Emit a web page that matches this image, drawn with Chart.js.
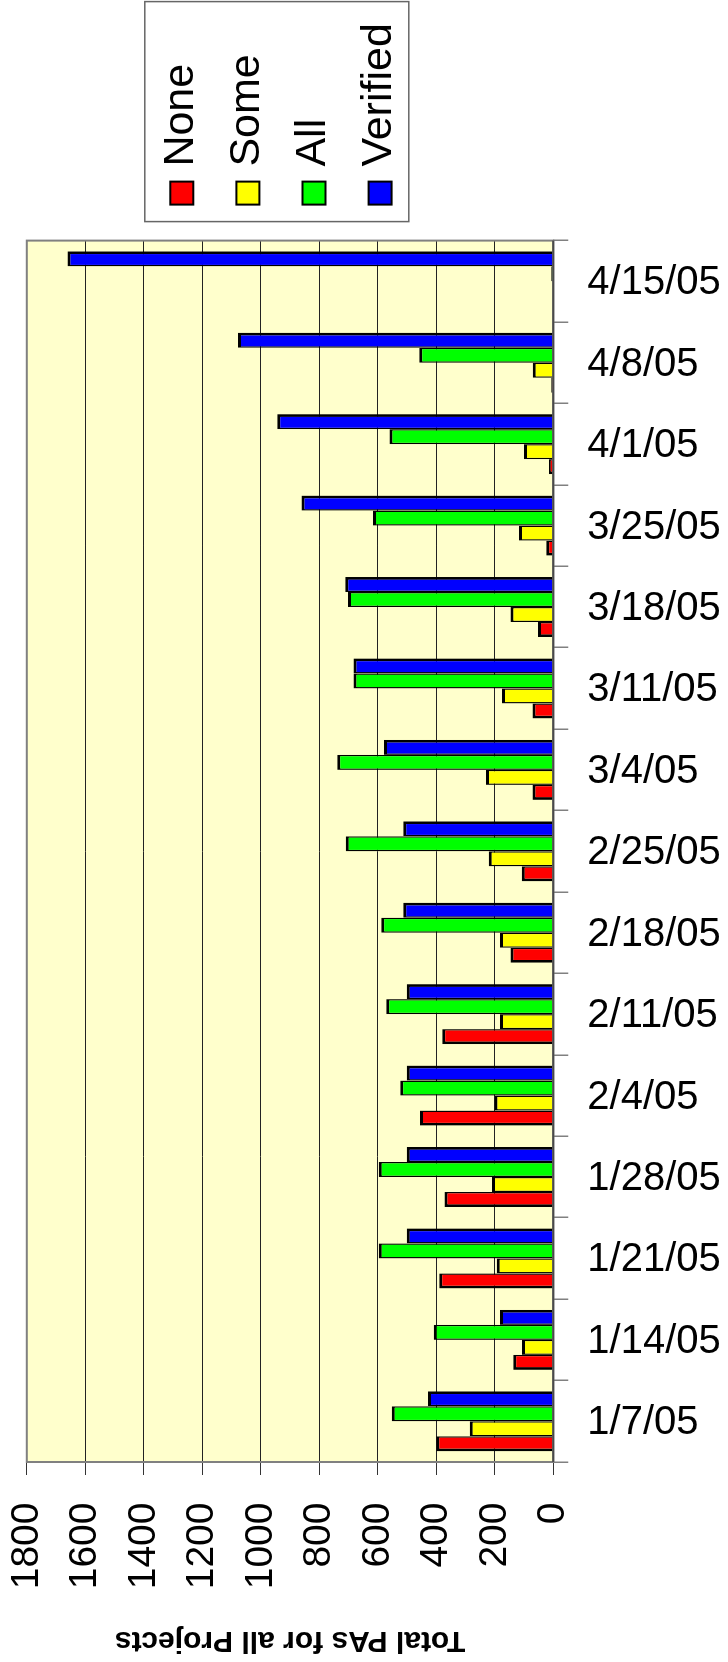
<!DOCTYPE html>
<html>
<head>
<meta charset="utf-8">
<title>Total PAs for all Projects</title>
<script src="https://cdn.jsdelivr.net/npm/chart.js@4/dist/chart.umd.min.js"></script>
<style>
  html, body { margin: 0; padding: 0; background: #fff; overflow: hidden; }
  #wrap { position: relative; width: 728px; height: 1662px; overflow: hidden; }
  /* the chart is laid out as a column chart and turned a quarter turn */
  #chart {
    position: absolute; left: 0; top: 0;
    width: 1662px; height: 728px;
    transform-origin: 0 0;
    transform: translate(0, 1662px) rotate(-90deg);
  }
</style>
</head>
<body>
<div id="wrap"><canvas id="chart" width="1662" height="728"></canvas></div>
<script>
// weekly counts, oldest week first
const dates = ['1/7/05', '1/14/05', '1/21/05', '1/28/05', '2/4/05', '2/11/05', '2/18/05', '2/25/05',
  '3/4/05', '3/11/05', '3/18/05', '3/25/05', '4/1/05', '4/8/05', '4/15/05'];
const noneCounts = [400, 137, 390, 372, 456, 380, 146, 108, 71, 71, 52, 24, 15, 7, 0];
const someCounts = [286, 107, 193, 210, 201, 182, 182, 221, 230, 175, 146, 117, 100, 70, 0];
const allCounts = [552, 409, 597, 597, 523, 571, 588, 710, 739, 683, 702, 616, 560, 458, 7];
const verifiedCounts = [428, 182, 501, 501, 501, 501, 513, 513, 579, 683, 711, 861, 944, 1078, 1661];
const valueTicks = [0, 200, 400, 600, 800, 1000, 1200, 1400, 1600, 1800];

const FONT = "'Liberation Sans', Arial, Helvetica, sans-serif";

// neighbouring bars share a thin edge, the outer edges of a group are full width
function series(label, data, color, leftEdge, rightEdge) {
  return {
    label: label,
    data: data,
    backgroundColor: color,
    borderColor: '#000',
    borderWidth: { top: 3, left: leftEdge, right: rightEdge, bottom: 0 },
    borderSkipped: false
  };
}

// pale plot background
const plotBackground = {
  id: 'plotBackground',
  beforeDraw(chart) {
    const { ctx, chartArea: a } = chart;
    ctx.save();
    ctx.fillStyle = '#fff';
    ctx.fillRect(0, 0, chart.width, chart.height);
    ctx.fillStyle = '#ffffcc';
    ctx.fillRect(a.left, a.top, a.right - a.left, a.bottom - a.top);
    ctx.restore();
  }
};

// grey frame round the plot, darker base line
const plotFrame = {
  id: 'plotFrame',
  afterDatasetsDraw(chart) {
    const { ctx, chartArea: a } = chart;
    ctx.save();
    ctx.strokeStyle = '#808080';
    ctx.lineWidth = 2;
    ctx.strokeRect(a.left, a.top, a.right - a.left, a.bottom - a.top);
    ctx.strokeStyle = '#4a4a4a';
    ctx.beginPath();
    ctx.moveTo(a.left, a.bottom);
    ctx.lineTo(a.right, a.bottom);
    ctx.stroke();
    ctx.restore();
  }
};

// date labels run the other way round from the value labels
const dateLabels = {
  id: 'dateLabels',
  afterDraw(chart) {
    const { ctx, chartArea: a } = chart;
    const xs = chart.scales.x;
    ctx.save();
    ctx.font = '40px ' + FONT;
    ctx.fillStyle = '#000';
    ctx.textAlign = 'left';
    ctx.textBaseline = 'middle';
    chart.data.labels.forEach((lab, i) => {
      ctx.save();
      ctx.translate(xs.getPixelForTick(i) - 2, a.bottom + 34);
      ctx.rotate(Math.PI / 2);
      ctx.fillText(lab, 0, 0);
      ctx.restore();
    });
    ctx.restore();
  }
};

// boxed legend beside the plot
const boxLegend = {
  id: 'boxLegend',
  afterDraw(chart) {
    const { ctx, chartArea: a } = chart;
    const x0 = a.right + 19;
    ctx.save();
    ctx.strokeStyle = '#666';
    ctx.lineWidth = 1.5;
    ctx.strokeRect(x0, a.top + 118, 220, 264);
    ctx.font = '43px ' + FONT;
    ctx.textAlign = 'left';
    ctx.textBaseline = 'middle';
    chart.data.datasets.forEach((ds, i) => {
      const cy = a.top + 155 + i * 66.1;
      ctx.fillStyle = ds.backgroundColor;
      ctx.fillRect(a.right + 36, cy - 11.5, 23, 23);
      ctx.strokeStyle = '#000';
      ctx.lineWidth = 2;
      ctx.strokeRect(a.right + 36, cy - 11.5, 23, 23);
      ctx.fillStyle = '#000';
      ctx.fillText(ds.label, a.right + 74, cy - 1);
    });
    ctx.restore();
  }
};

new Chart(document.getElementById('chart'), {
  type: 'bar',
  data: {
    labels: dates,
    datasets: [
      series('None', noneCounts, '#ff0000', 2.75, 1.4),
      series('Some', someCounts, '#ffff00', 1.4, 1.4),
      series('All', allCounts, '#00ff00', 1.4, 1.4),
      series('Verified', verifiedCounts, '#0000ff', 1.4, 2.75)
    ]
  },
  options: {
    responsive: false,
    animation: false,
    devicePixelRatio: 1,
    layout: { padding: { top: 26.8, right: 240.6, bottom: 159.7, left: 0 } },
    datasets: { bar: { categoryPercentage: 0.737, barPercentage: 1.0 } },
    plugins: { legend: { display: false }, tooltip: { enabled: false } },
    scales: {
      x: {
        offset: true,
        ticks: { display: false },
        grid: { drawOnChartArea: false, offset: true, tickLength: 15, tickColor: '#808080', lineWidth: 1.5 },
        border: { display: false }
      },
      y: {
        min: 0,
        max: 1800,
        afterBuildTicks: s => { s.ticks = valueTicks.map(v => ({ value: v })); },
        afterFit: s => {
          // fixed axis width; the end labels may hang past the plot edges
          s.width = 200;
          s.paddingTop = 0;
          s.paddingBottom = 0;
        },
        ticks: {
          color: '#000',
          padding: 27.5,
          font: { family: FONT, size: 39 },
          callback: v => String(v)
        },
        grid: { color: '#222', lineWidth: 1, tickLength: 13, tickColor: '#333' },
        border: { display: false },
        title: {
          display: true,
          text: 'Total PAs for all Projects',
          color: '#000',
          padding: { top: 3.5, bottom: 0 },
          font: { family: FONT, size: 30, weight: 'bold' }
        }
      }
    }
  },
  plugins: [plotBackground, plotFrame, dateLabels, boxLegend]
});
</script>
</body>
</html>
